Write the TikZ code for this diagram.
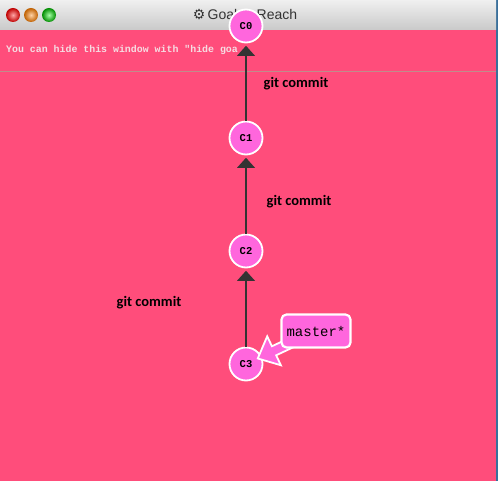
\documentclass[tikz,border=0pt]{standalone}
\usepackage{fontspec}
\setmainfont{Liberation Sans}
\setmonofont{Liberation Mono}
\newfontfamily\labelfont{Carlito}
\newfontfamily\symfont{DejaVu Sans}
\usetikzlibrary{calc,arrows.meta}
\definecolor{bgpink}{HTML}{FF4D7B}
\definecolor{commitpink}{HTML}{FF66DD}
\definecolor{edgegray}{HTML}{333333}
\definecolor{hintwhite}{HTML}{F6DCE2}
\definecolor{framblue}{HTML}{3A6F9A}

\begin{document}
\begin{tikzpicture}[x=1pt,y=-1pt,
    commit/.style={circle,fill=commitpink,draw=white,line width=1.8pt,minimum size=33pt,inner sep=0pt,font=\ttfamily\bfseries\fontsize{10.5}{10.5}\selectfont},
    parent/.style={-{Triangle[length=10pt,width=18pt,line width=0pt]},edgegray,line width=2.4pt,shorten >=2.4pt},
    cmdlabel/.style={font=\labelfont\bfseries\fontsize{14.5}{14.5}\selectfont},
    branchbox/.style={rounded corners=5pt,fill=commitpink,draw=white,line width=2.2pt,minimum width=69pt,minimum height=33pt,inner sep=0pt,font=\ttfamily\fontsize{14}{14}\selectfont}]
    \useasboundingbox (0,0) rectangle (498,481);

    % Window
    \fill[bgpink] (0,0) rectangle (498,481);
    \fill[framblue] (496,0) rectangle (498,481);
    \shade[top color=gray!12,bottom color=gray!42] (0,0) rectangle (496,30);
    \shade[inner color=red!35,outer color=red!75!black] (13,15) circle (7);
    \shade[inner color=orange!35,outer color=orange!75!black] (31,15) circle (7);
    \shade[inner color=green!35,outer color=green!55!black] (49,15) circle (7);
    \node[font=\fontsize{14}{14}\selectfont,text=black!80] (title) at (245,15) {{\symfont ⚙}\,Goal to Reach};
    \draw[red!30!gray!70,line width=0.8pt] (0,71) -- (496,71);
    \node[anchor=west,inner sep=0pt,text=hintwhite,font=\ttfamily\bfseries\fontsize{9.9}{10}\selectfont] (hint) at (6,50) {You can hide this window with "hide goa};

    % Commits
    \node[commit] (c0) at (246,26) {C0};
    \node[commit] (c1) at (246,138) {C1};
    \node[commit] (c2) at (246,251) {C2};
    \node[commit] (c3) at (246,364) {C3};

    % Parent links
    \draw[parent] (c1) -- (c0);
    \draw[parent] (c2) -- (c1);
    \draw[parent] (c3) -- (c2);

    % Commands
    \node[cmdlabel] (cmd1) at (296,84) {git commit};
    \node[cmdlabel] (cmd2) at (299,202) {git commit};
    \node[cmdlabel] (cmd3) at (149,303) {git commit};

    % Branch pointer
    \coordinate (mpos) at (316,331);
    \coordinate (tipend) at ($(c3.center)!13pt!(mpos)$);
    \coordinate (hb) at ($(tipend)!18pt!(mpos)$);
    \filldraw[fill=commitpink,draw=white,line width=1.8pt,line join=miter]
        ($(mpos)!5pt!-90:(tipend)$) -- ($(hb)!5pt!90:(mpos)$) -- ($(hb)!16pt!90:(mpos)$)
        -- (tipend) -- ($(hb)!16pt!-90:(mpos)$) -- ($(hb)!5pt!-90:(mpos)$)
        -- ($(mpos)!5pt!90:(tipend)$) -- cycle;
    \node[branchbox] (master) at (mpos) {master*};
\end{tikzpicture}
\end{document}
